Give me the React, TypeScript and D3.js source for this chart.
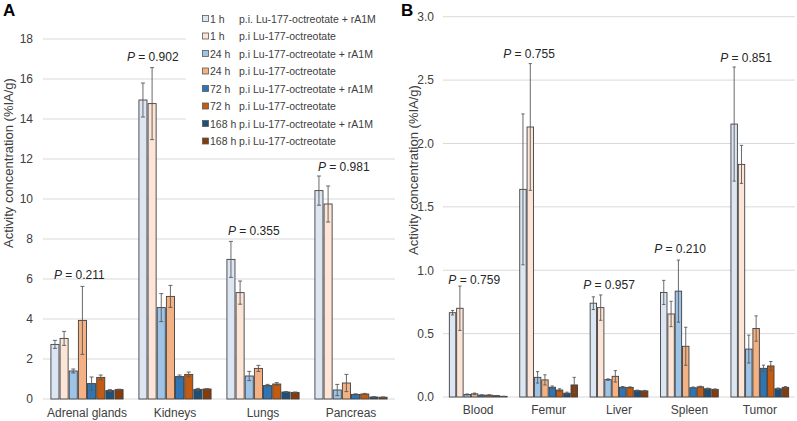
import React from 'react';
import * as d3 from 'd3';

// ---------- data ----------
const seriesTimes = ['1 h', '1 h', '24 h', '24 h', '72 h', '72 h', '168 h', '168 h'];
const seriesDesc = [
  'p.i. Lu-177-octreotate + rA1M',
  'p.i Lu-177-octreotate',
  'p.i Lu-177-octreotate + rA1M',
  'p.i Lu-177-octreotate',
  'p.i Lu-177-octreotate + rA1M',
  'p.i Lu-177-octreotate',
  'p.i Lu-177-octreotate + rA1M',
  'p.i Lu-177-octreotate',
];
const seriesColors = ['#dce6f2', '#fce4d6', '#9dc3e6', '#f4b183', '#2e75b6', '#c55a11', '#1f4e79', '#843c0c'];

const categoriesA = ['Adrenal glands', 'Kidneys', 'Lungs', 'Pancreas'];
const meansA = [
  [2.73, 3.03, 1.4, 3.93, 0.77, 1.08, 0.42, 0.47],
  [14.95, 14.77, 4.57, 5.13, 1.12, 1.23, 0.48, 0.5],
  [6.98, 5.32, 1.15, 1.53, 0.67, 0.75, 0.35, 0.33],
  [10.42, 9.75, 0.45, 0.8, 0.23, 0.25, 0.1, 0.09],
];
const errorsA = [
  [0.2, 0.35, 0.1, 1.7, 0.33, 0.12, 0.05, 0.02],
  [0.85, 1.8, 0.7, 0.55, 0.08, 0.12, 0.05, 0.02],
  [0.9, 0.58, 0.23, 0.15, 0.06, 0.07, 0.02, 0.02],
  [0.73, 0.9, 0.28, 0.43, 0.03, 0.03, 0.02, 0.01],
];
const pTextA = ['0.211', '0.902', '0.355', '0.981'];
const pLevelA = [6.0, 16.9, 8.18, 11.4];
const ticksA = [0, 2, 4, 6, 8, 10, 12, 14, 16, 18];

const categoriesB = ['Blood', 'Femur', 'Liver', 'Spleen', 'Tumor'];
const meansB = [
  [0.665, 0.7, 0.02, 0.025, 0.015, 0.015, 0.01, 0.005],
  [1.638, 2.13, 0.155, 0.135, 0.077, 0.055, 0.03, 0.095],
  [0.74, 0.705, 0.137, 0.163, 0.077, 0.075, 0.05, 0.048],
  [0.825, 0.655, 0.835, 0.4, 0.073, 0.08, 0.065, 0.06],
  [2.153, 1.835, 0.378, 0.54, 0.226, 0.245, 0.065, 0.076],
];
const errorsB = [
  [0.018, 0.175, 0.004, 0.006, 0.003, 0.003, 0.002, 0.001],
  [0.595, 0.5, 0.045, 0.04, 0.01, 0.01, 0.008, 0.06],
  [0.05, 0.1, 0.006, 0.045, 0.006, 0.005, 0.004, 0.004],
  [0.095, 0.1, 0.245, 0.15, 0.006, 0.005, 0.005, 0.004],
  [0.45, 0.15, 0.11, 0.1, 0.025, 0.035, 0.006, 0.006],
];
const pTextB = ['0.759', '0.755', '0.957', '0.210', '0.851'];
const pLevelB = [0.894, 2.677, 0.855, 1.136, 2.642];
const ticksB = [0, 0.5, 1, 1.5, 2, 2.5, 3];

// ---------- layout ----------
const W = 797;
const H = 421;
const FONT = 'Liberation Sans, Arial, sans-serif';
const TEXT = '#404040';
const GRID = '#d9d9d9';

type PanelProps = {
  cats: string[];
  means: number[][];
  errors: number[][];
  pText: string[];
  pLevel: number[];
  pDx: number[];
  ticks: number[];
  fmt: (v: number) => string;
  x0: number;
  x1: number;
  yTop: number;
  yBottom: number;
  yMax: number;
  catBaseline: number;
  tickRight: number;
  titleX: number;
  titleY: number;
  letter: string;
  letterX: number;
  legend?: boolean;
};

function Panel(p: PanelProps) {
  const y = d3.scaleLinear().domain([0, p.yMax]).range([p.yBottom, p.yTop]);
  const xOuter = d3.scaleBand<string>().domain(p.cats).range([p.x0, p.x1]).padding(0);
  const bw = xOuter.bandwidth();
  const groupW = bw * 0.82;
  const xInner = d3
    .scaleBand<number>()
    .domain(d3.range(8))
    .range([0, groupW])
    .paddingInner(0.12);
  const barW = xInner.bandwidth();
  const cap = Math.max(3, barW * 0.5);

  return (
    <g>
      <text x={p.letterX} y={16} fontSize={17} fontWeight="bold" fill="#000" fontFamily={FONT}>
        {p.letter}
      </text>
      {p.ticks.map((t) => (
        <g key={'t' + t}>
          <line x1={p.x0} x2={p.x1} y1={y(t)} y2={y(t)} stroke={GRID} strokeWidth={1} />
          <text
            x={p.tickRight}
            y={y(t) + 4.3}
            textAnchor="end"
            fontSize={12}
            fill={TEXT}
            fontFamily={FONT}
          >
            {p.fmt(t)}
          </text>
        </g>
      ))}
      <text
        transform={`translate(${p.titleX},${p.titleY}) rotate(-90)`}
        textAnchor="middle"
        fontSize={13}
        fill={TEXT}
        fontFamily={FONT}
      >
        Activity concentration (%IA/g)
      </text>
      {p.legend && (
        <g>
          <rect x={186} y={6} width={210} height={146} fill="#fff" />
          {seriesTimes.map((tm, i) => {
            const cy = 19 + i * 17.5;
            return (
              <g key={'lg' + i}>
                <rect
                  x={202.5}
                  y={cy - 3.5}
                  width={6}
                  height={6}
                  fill={seriesColors[i]}
                  stroke="#595959"
                  strokeWidth={0.8}
                />
                <text x={210} y={cy + 3.8} fontSize={10.5} fill={TEXT} fontFamily={FONT}>
                  {tm}
                </text>
                <text x={239} y={cy + 3.8} fontSize={10.5} fill={TEXT} fontFamily={FONT}>
                  {seriesDesc[i]}
                </text>
              </g>
            );
          })}
        </g>
      )}
      {p.cats.map((c, ci) => {
        const gx = (xOuter(c) as number) + (bw - groupW) / 2;
        return (
          <g key={c}>
            {p.means[ci].map((v, si) => {
              const bx = gx + (xInner(si) as number);
              const e = p.errors[ci][si];
              const cx = bx + barW / 2;
              return (
                <g key={si}>
                  <rect
                    x={bx}
                    y={y(v)}
                    width={barW}
                    height={y(0) - y(v)}
                    fill={seriesColors[si]}
                    stroke="#404040"
                    strokeWidth={0.9}
                  />
                  <line x1={cx} x2={cx} y1={y(v + e)} y2={y(Math.max(0, v - e))} stroke="#595959" strokeWidth={0.9} />
                  <line x1={cx - cap / 2} x2={cx + cap / 2} y1={y(v + e)} y2={y(v + e)} stroke="#595959" strokeWidth={0.9} />
                  <line
                    x1={cx - cap / 2}
                    x2={cx + cap / 2}
                    y1={y(Math.max(0, v - e))}
                    y2={y(Math.max(0, v - e))}
                    stroke="#595959"
                    strokeWidth={0.9}
                  />
                </g>
              );
            })}
            <text
              x={(xOuter(c) as number) + bw / 2}
              y={p.catBaseline}
              textAnchor="middle"
              fontSize={12}
              fill={TEXT}
              fontFamily={FONT}
            >
              {c}
            </text>
            <text x={gx + p.pDx[ci]} y={y(p.pLevel[ci])} fontSize={12} fill="#262626" fontFamily={FONT}>
              <tspan fontStyle="italic">P</tspan>
              {' = ' + p.pText[ci]}
            </text>
          </g>
        );
      })}
    </g>
  );
}

export default function App() {
  return (
    <svg
      width={W}
      height={H}
      viewBox={`0 0 ${W} ${H}`}
      style={{ position: 'absolute', left: 0, top: 0, background: '#fff' }}
    >
      <rect width={W} height={H} fill="#fff" />
      <Panel
        cats={categoriesA}
        means={meansA}
        errors={errorsA}
        pText={pTextA}
        pLevel={pLevelA}
        pDx={[3, -12, 1, 3]}
        ticks={ticksA}
        fmt={(v) => String(v)}
        x0={43}
        x1={395}
        yTop={39}
        yBottom={399}
        yMax={18}
        catBaseline={417}
        tickRight={33}
        titleX={13}
        titleY={163}
        letter="A"
        letterX={3}
        legend
      />
      <Panel
        cats={categoriesB}
        means={meansB}
        errors={errorsB}
        pText={pTextB}
        pLevel={pLevelB}
        pDx={[-1, -16.6, -7, -6.4, -10.8]}
        ticks={ticksB}
        fmt={(v) => d3.format('.1f')(v)}
        x0={443}
        x1={795}
        yTop={16.7}
        yBottom={397}
        yMax={3}
        catBaseline={414}
        tickRight={434}
        titleX={418}
        titleY={170}
        letter="B"
        letterX={401}
      />
    </svg>
  );
}
